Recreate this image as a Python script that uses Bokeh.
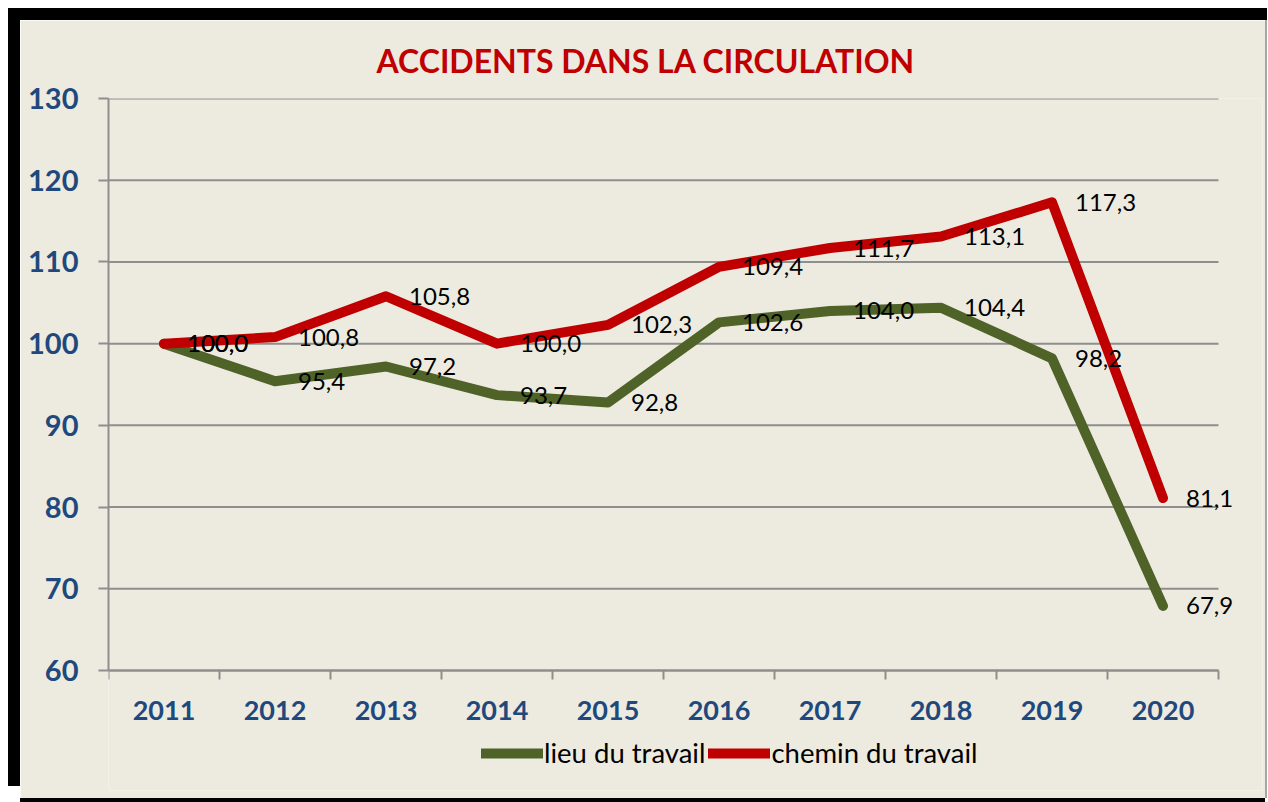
from bokeh.plotting import figure
from bokeh.models import FixedTicker, Legend, LegendItem
from bokeh.core.properties import value
from bokeh.embed import file_html
from bokeh.resources import INLINE

# ---- data ----
years = ["2011", "2012", "2013", "2014", "2015", "2016", "2017", "2018", "2019", "2020"]
lieu_du_travail = [100.0, 95.4, 97.2, 93.7, 92.8, 102.6, 104.0, 104.4, 98.2, 67.9]
chemin_du_travail = [100.0, 100.8, 105.8, 100.0, 102.3, 109.4, 111.7, 113.1, 117.3, 81.1]
y_ticks = [60, 70, 80, 90, 100, 110, 120, 130]
title_text = "ACCIDENTS DANS LA CIRCULATION"

# ---- style / layout ----
BG = "#EDEBE0"
GRID = "#8E8E8E"
BLUE = "#1F497D"
RED = "#C00000"
GREEN = "#4F6228"
FONT = "Lato"

W, H = 1245, 778            # canvas size
FL, FT = 88, 78             # frame left / top
FR, FB = 1242, 770          # frame right / bottom (canvas px)
AX_RIGHT_PX = 1198          # pixel where the category axis ends
AX_BOTTOM_PX = 650          # pixel where the value axis starts (y = 60)

n = len(years)
idx = [i + 1 for i in range(n)]
x0 = 0.5
x1 = n + 0.5
x_end = x0 + (x1 - x0) * (FR - FL) / (AX_RIGHT_PX - FL)
y0, y1 = y_ticks[0], y_ticks[-1]
y_start = y1 - (y1 - y0) * (FB - FT) / (AX_BOTTOM_PX - FT)

p = figure(width=W, height=H,
           x_range=(x0, x_end), y_range=(y_start, y1),
           output_backend="svg", toolbar_location=None,
           min_border_left=FL, min_border_right=W - FR, min_border_top=FT, min_border_bottom=H - FB,
           background_fill_color=BG, border_fill_color=BG, outline_line_color=None)
p.styles = {"margin-left": "20px", "margin-top": "20px",
            "box-shadow": "2px 0 0 0 #A6A6A6, -12px -12px 0 0 #000000, "
                          "2px -12px 0 0 #000000, 0 4px 0 0 #000000"}

# title
p.title.text = title_text
p.title.align = "left"
p.title.offset = 268
p.title.text_font = FONT
p.title.text_font_size = "32px"
p.title.text_font_style = "bold"
p.title.text_color = RED
p.title.standoff = 37

# x axis (drawn at y = 60)
xa = p.xaxis[0]
xa.fixed_location = y0
xa.bounds = (x0, x1)
xa.ticker = FixedTicker(ticks=idx, minor_ticks=[i + 0.5 for i in range(n + 1)])
xa.major_label_overrides = {i: y for i, y in zip(idx, years)}
xa.major_tick_line_color = None
xa.major_tick_out = 9
xa.major_tick_in = 0
xa.minor_tick_out = 9
xa.minor_tick_in = 0
xa.minor_tick_line_color = GRID
xa.minor_tick_line_width = 2
xa.axis_line_color = GRID
xa.axis_line_width = 2
xa.major_label_text_font = FONT
xa.major_label_text_font_size = "27px"
xa.major_label_text_font_style = "bold"
xa.major_label_text_color = BLUE
xa.major_label_standoff = 21

# y axis
ya = p.yaxis[0]
ya.bounds = (y0, y1)
ya.ticker = FixedTicker(ticks=y_ticks, minor_ticks=[])
ya.major_tick_out = 10
ya.major_tick_in = 0
ya.major_tick_line_color = GRID
ya.major_tick_line_width = 2
ya.axis_line_color = GRID
ya.axis_line_width = 2
ya.major_label_text_font = FONT
ya.major_label_text_font_size = "29px"
ya.major_label_text_font_style = "bold"
ya.major_label_text_color = BLUE
ya.major_label_standoff = 20

# horizontal gridlines limited to the category span
p.xgrid.grid_line_color = None
p.ygrid.grid_line_color = None
p.segment(x0=[x0] * len(y_ticks), x1=[x1] * len(y_ticks), y0=y_ticks, y1=y_ticks,
          line_color=GRID, line_width=2)

# lines
g = p.line(idx, lieu_du_travail, line_color=GREEN, line_width=10, line_cap="round", line_join="round")
r = p.line(idx, chemin_du_travail, line_color=RED, line_width=10, line_cap="round", line_join="round")

def fmt(v):
    return f"{v:.1f}".replace(".", ",")

for series in (lieu_du_travail, chemin_du_travail):
    p.text(x=idx, y=series, text=[fmt(v) for v in series], x_offset=23,
           text_baseline="middle", text_align="left",
           text_font=value(FONT), text_font_size="24px", text_color="black")

legend = Legend(items=[LegendItem(label="lieu du travail", renderers=[g]),
                       LegendItem(label="chemin du travail", renderers=[r])],
                orientation="horizontal", location=(373, 21),
                background_fill_alpha=0, border_line_color=None,
                label_text_font=FONT, label_text_font_size="27.5px", label_text_color="black",
                glyph_width=62, glyph_height=20, label_standoff=1, spacing=3,
                margin=0, padding=0)
p.add_layout(legend, "center")

open("out.html", "w").write(file_html(p, INLINE))
